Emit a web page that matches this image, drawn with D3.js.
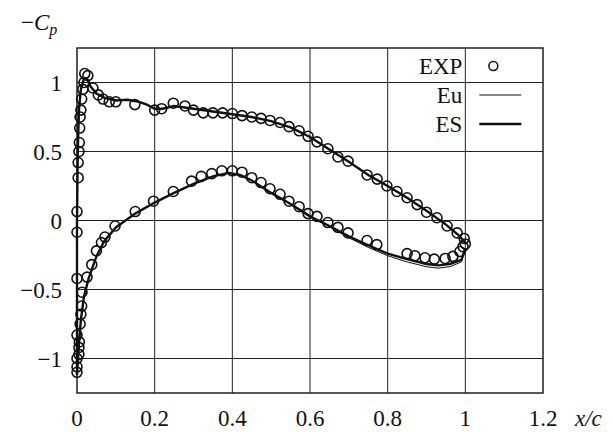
<!DOCTYPE html>
<html>
<head>
<meta charset="utf-8">
<script src="https://cdn.jsdelivr.net/npm/d3@7"></script>
<style>
	body { margin: 0; background: #fff; }
</style>
</head>
<body>
<svg id="chart"></svg>
<script>
// axis ticks
var xTicks = [0, 0.2, 0.4, 0.6, 0.8, 1, 1.2];
var yTicks = [-1, -0.5, 0, 0.5, 1];

// experiment, suction side (x/c, -Cp)
var expUpper = [
	[0.0, -1.1], [0.0, -1.06], [0.0, -1.0], [0.0, -0.83], [0.0, -0.42], [0.0, -0.085], [0.0, 0.065],
	[0.003, 0.31], [0.003, 0.42], [0.005, 0.5], [0.006, 0.565], [0.007, 0.67], [0.008, 0.75],
	[0.01, 0.8], [0.012, 0.88], [0.015, 0.95], [0.018, 1.0], [0.02, 1.065], [0.028, 1.05],
	[0.041, 0.96], [0.055, 0.91], [0.067, 0.88], [0.083, 0.86], [0.1, 0.86], [0.149, 0.84],
	[0.2, 0.8], [0.218, 0.81], [0.248, 0.85], [0.278, 0.83], [0.3, 0.8], [0.325, 0.78],
	[0.35, 0.78], [0.375, 0.78], [0.4, 0.775], [0.425, 0.76], [0.45, 0.75], [0.474, 0.74],
	[0.497, 0.725], [0.523, 0.71], [0.546, 0.68], [0.572, 0.65], [0.595, 0.61], [0.618, 0.57],
	[0.646, 0.52], [0.672, 0.46], [0.698, 0.43], [0.747, 0.33], [0.773, 0.3], [0.798, 0.25],
	[0.824, 0.21], [0.85, 0.165], [0.876, 0.115], [0.9, 0.06], [0.927, 0.02], [0.953, -0.04],
	[0.979, -0.09], [0.997, -0.13], [1.0, -0.17]
];

// experiment, pressure side
var expLower = [
	[0.005, -0.97], [0.005, -0.92], [0.006, -0.88], [0.008, -0.75], [0.01, -0.68], [0.012, -0.62],
	[0.013, -0.52], [0.026, -0.41], [0.038, -0.32], [0.05, -0.22], [0.063, -0.16], [0.072, -0.12],
	[0.098, -0.04], [0.15, 0.065], [0.197, 0.14], [0.248, 0.21], [0.295, 0.285], [0.32, 0.32],
	[0.347, 0.34], [0.373, 0.36], [0.4, 0.36], [0.425, 0.35], [0.45, 0.31], [0.474, 0.275],
	[0.497, 0.23], [0.523, 0.19], [0.546, 0.14], [0.572, 0.1], [0.595, 0.05], [0.618, 0.03],
	[0.646, -0.015], [0.672, -0.05], [0.698, -0.09], [0.747, -0.145], [0.772, -0.175],
	[0.85, -0.24], [0.87, -0.255], [0.896, -0.27], [0.92, -0.28], [0.948, -0.275],
	[0.968, -0.26], [0.986, -0.225], [0.994, -0.19]
];

// ES computation
var esUpper = [
	[0.0, -1.12], [0.0, -0.6], [0.0, 0.0], [0.002, 0.5], [0.005, 0.8], [0.01, 0.95], [0.018, 1.03],
	[0.025, 1.03], [0.035, 0.97], [0.05, 0.92], [0.07, 0.89], [0.1, 0.87], [0.13, 0.875],
	[0.16, 0.86], [0.18, 0.84], [0.2, 0.81], [0.22, 0.81], [0.25, 0.83], [0.3, 0.81], [0.35, 0.79],
	[0.4, 0.77], [0.45, 0.75], [0.5, 0.72], [0.55, 0.675], [0.6, 0.605], [0.65, 0.515],
	[0.7, 0.425], [0.75, 0.33], [0.8, 0.25], [0.85, 0.165], [0.9, 0.07], [0.95, -0.03],
	[0.98, -0.1], [1.0, -0.16]
];
var esLower = [
	[0.0, -1.12], [0.005, -0.9], [0.01, -0.72], [0.018, -0.55], [0.03, -0.42], [0.04, -0.34],
	[0.05, -0.26], [0.07, -0.15], [0.1, -0.05], [0.15, 0.05], [0.2, 0.13], [0.25, 0.2],
	[0.3, 0.265], [0.35, 0.32], [0.39, 0.345], [0.42, 0.33], [0.45, 0.29], [0.5, 0.2],
	[0.55, 0.12], [0.6, 0.03], [0.65, -0.04], [0.7, -0.115], [0.75, -0.18], [0.8, -0.24],
	[0.85, -0.28], [0.9, -0.315], [0.93, -0.325], [0.96, -0.315], [0.99, -0.285], [1.0, -0.2]
];

// Euler computation
var euUpper = [
	[0.0, -1.12], [0.0, -0.6], [0.0, 0.0], [0.002, 0.5], [0.005, 0.8], [0.01, 0.95], [0.018, 1.03],
	[0.025, 1.03], [0.035, 0.97], [0.05, 0.92], [0.07, 0.89], [0.1, 0.87], [0.13, 0.875],
	[0.16, 0.86], [0.18, 0.84], [0.2, 0.81], [0.22, 0.81], [0.25, 0.83], [0.3, 0.81], [0.35, 0.79],
	[0.4, 0.77], [0.45, 0.75], [0.5, 0.72], [0.55, 0.675], [0.6, 0.605], [0.65, 0.515],
	[0.7, 0.425], [0.75, 0.33], [0.8, 0.25], [0.85, 0.165], [0.9, 0.07], [0.95, -0.03],
	[0.98, -0.1], [1.0, -0.16]
];
var euLower = [
	[0.0, -1.12], [0.005, -0.9], [0.01, -0.72], [0.018, -0.55], [0.03, -0.42], [0.04, -0.34],
	[0.05, -0.26], [0.07, -0.15], [0.1, -0.05], [0.15, 0.05], [0.2, 0.13], [0.25, 0.2],
	[0.3, 0.265], [0.35, 0.32], [0.39, 0.345], [0.42, 0.33], [0.45, 0.29], [0.5, 0.2],
	[0.55, 0.12], [0.6, 0.03], [0.65, -0.045], [0.7, -0.125], [0.75, -0.195], [0.8, -0.255],
	[0.85, -0.3], [0.9, -0.335], [0.93, -0.345], [0.96, -0.335], [0.99, -0.3], [1.0, -0.21]
];

var legendItems = ['EXP', 'Eu', 'ES'];

var serif = '"Liberation Serif", "Times New Roman", "DejaVu Serif", "Noto Serif", serif';

var margin = {top: 48, right: 70, bottom: 39, left: 77},
	width = 613 - margin.left - margin.right,
	height = 432 - margin.top - margin.bottom;

var svg = d3.select('#chart')
	.attr('width', 613)
	.attr('height', 432)
	.attr('font-family', serif);

var g = svg.append('g')
	.attr('transform', 'translate(' + margin.left + ',' + margin.top + ')');

var x = d3.scaleLinear().domain([0, 1.2]).range([0, width]);
var y = d3.scaleLinear().domain([-1.25, 1.25]).range([height, 0]);

// grid
g.selectAll('.vgrid')
	.data(xTicks.slice(1, -1))
	.enter()
	.append('line')
	.attr('class', 'vgrid')
	.attr('x1', function(d) { return x(d); })
	.attr('x2', function(d) { return x(d); })
	.attr('y1', 0)
	.attr('y2', height)
	.style('stroke', '#222')
	.style('stroke-width', 1);

g.selectAll('.hgrid')
	.data(yTicks)
	.enter()
	.append('line')
	.attr('class', 'hgrid')
	.attr('x1', 0)
	.attr('x2', width)
	.attr('y1', function(d) { return y(d); })
	.attr('y2', function(d) { return y(d); })
	.style('stroke', '#222')
	.style('stroke-width', 1);

g.append('rect')
	.attr('width', width)
	.attr('height', height)
	.style('fill', 'none')
	.style('stroke', '#111')
	.style('stroke-width', 1.4);

// tick labels
var fmt = function(d) { return String(d).replace('-', '\u2212'); };

g.selectAll('.xlabel')
	.data(xTicks)
	.enter()
	.append('text')
	.attr('class', 'xlabel')
	.attr('x', function(d) { return x(d); })
	.attr('y', height + 33)
	.attr('text-anchor', 'middle')
	.attr('font-family', serif)
	.style('font-size', '23px')
	.style('fill', '#111')
	.text(fmt);

g.selectAll('.ylabel')
	.data(yTicks)
	.enter()
	.append('text')
	.attr('class', 'ylabel')
	.attr('x', -15)
	.attr('y', function(d) { return y(d) + 8; })
	.attr('text-anchor', 'end')
	.attr('font-family', serif)
	.style('font-size', '23px')
	.style('fill', '#111')
	.text(fmt);

// axis titles
g.append('text')
	.attr('x', width + 32)
	.attr('y', height + 33)
	.attr('font-family', serif)
	.style('font-size', '23px')
	.style('font-style', 'italic')
	.style('fill', '#111')
	.text('x/c');

var yTitle = g.append('text')
	.attr('x', -56)
	.attr('y', -18)
	.attr('font-family', serif)
	.style('font-size', '23px')
	.style('fill', '#111');
yTitle.append('tspan').text('\u2212');
yTitle.append('tspan').style('font-style', 'italic').text('C');
yTitle.append('tspan').style('font-style', 'italic').style('font-size', '16px').attr('dy', 5).text('p');

// curves
var line = d3.line()
	.x(function(d) { return x(d[0]); })
	.y(function(d) { return y(d[1]); });

g.append('path')
	.datum(euUpper.slice().reverse().concat(euLower.slice(1)))
	.attr('d', line)
	.style('fill', 'none')
	.style('stroke', '#111')
	.style('stroke-width', 1);

g.append('path')
	.datum(esUpper.slice().reverse().concat(esLower.slice(1)))
	.attr('d', line)
	.style('fill', 'none')
	.style('stroke', '#111')
	.style('stroke-width', 2.4);

g.selectAll('.exp')
	.data(expUpper.concat(expLower))
	.enter()
	.append('circle')
	.attr('class', 'exp')
	.attr('cx', function(d) { return x(d[0]); })
	.attr('cy', function(d) { return y(d[1]); })
	.attr('r', 5)
	.style('fill', 'none')
	.style('stroke', '#111')
	.style('stroke-width', 1.6);

// legend
var legend = g.selectAll('.legend-item')
	.data(legendItems)
	.enter()
	.append('g')
	.attr('class', 'legend-item')
	.attr('transform', function(d, i) {
		return 'translate(' + (x(1) - 3) + ',' + (26 + i * 29) + ')';
	});

legend.append('text')
	.attr('text-anchor', 'end')
	.attr('font-family', serif)
	.style('font-size', '23px')
	.style('fill', '#111')
	.text(function(d) { return d; });

legend.each(function(d, i) {
	var item = d3.select(this);
	if (i === 0) {
		item.append('circle')
			.attr('cx', 31)
			.attr('cy', -8)
			.attr('r', 4.5)
			.style('fill', 'none')
			.style('stroke', '#111')
			.style('stroke-width', 1.5);
	} else {
		item.append('line')
			.attr('x1', 17)
			.attr('x2', 59)
			.attr('y1', -8)
			.attr('y2', -8)
			.style('stroke', '#111')
			.style('stroke-width', i === 1 ? 1 : 2.4);
	}
});
</script>
</body>
</html>
